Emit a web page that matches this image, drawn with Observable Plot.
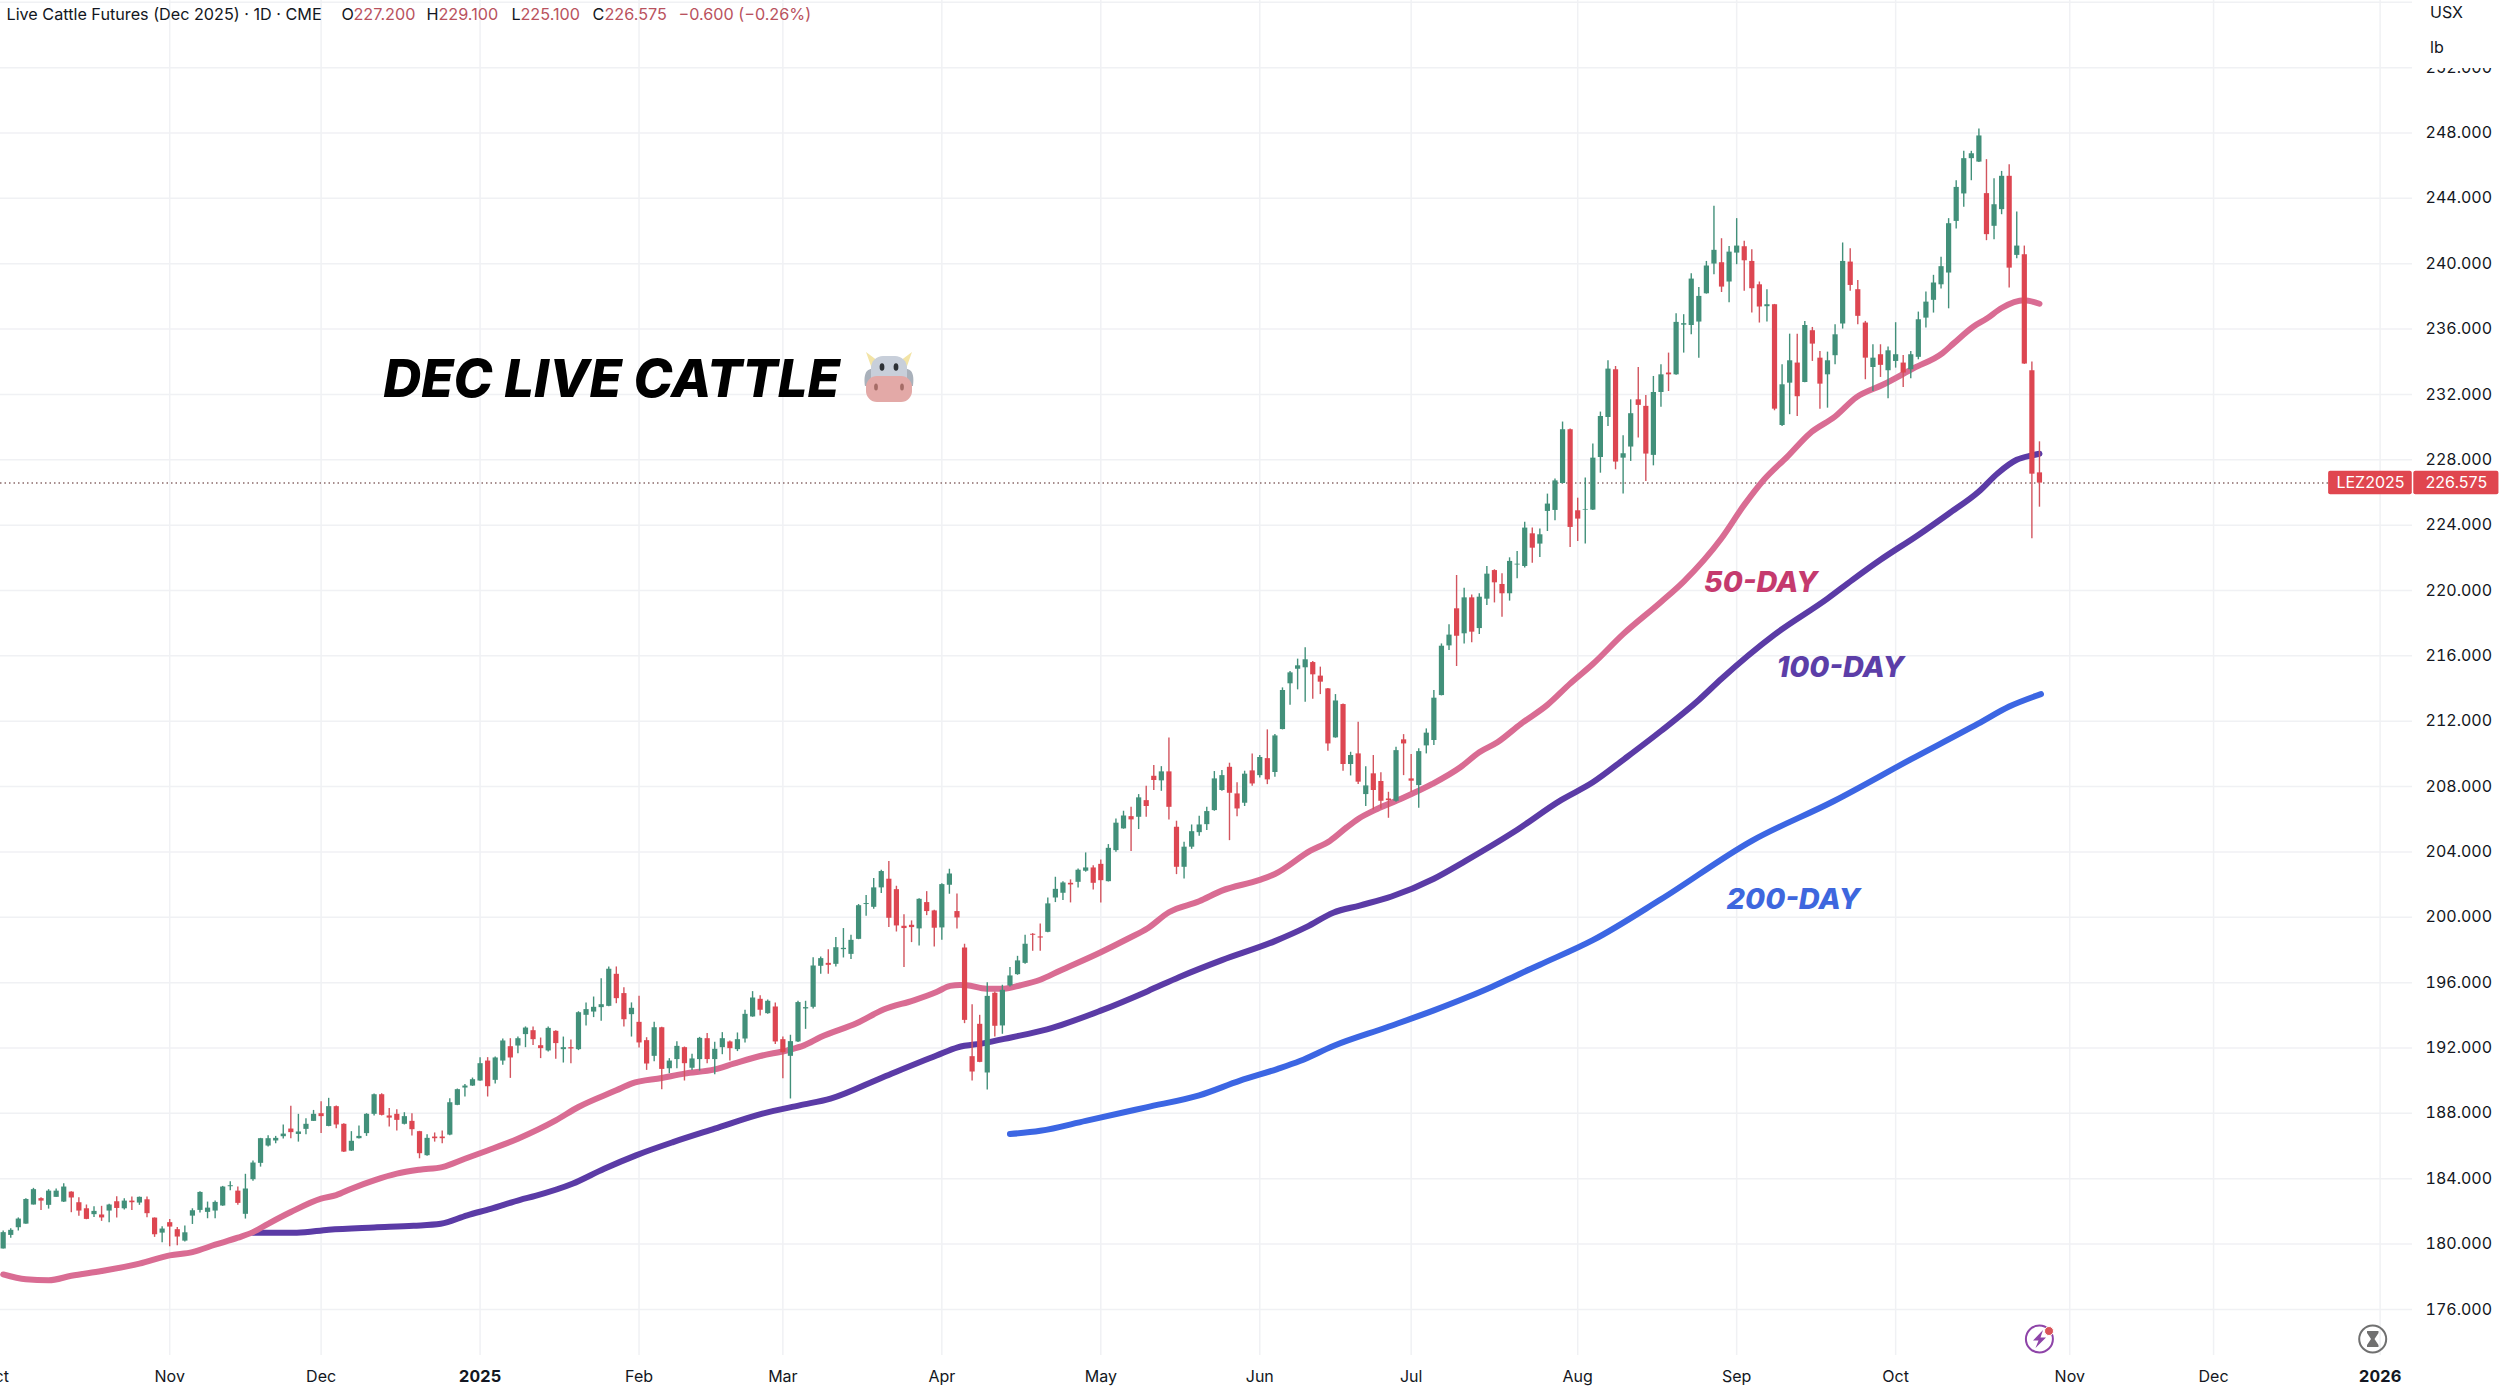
<!DOCTYPE html>
<html>
<head>
<meta charset="utf-8">
<style>
html,body{margin:0;padding:0;background:#fff;overflow:hidden}
svg{display:block}
</style>
<script src="https://cdn.jsdelivr.net/npm/d3@7"></script>
<script src="https://cdn.jsdelivr.net/npm/@observablehq/plot@0.6"></script>
</head>
<body>
<div id="chart"></div>
<script>
const opens=[179.7,180.53,181,181.22,182.39,182.78,182.37,182.86,182.57,183.18,182.53,182.16,181.8,181.78,182.02,182.59,182.16,182.63,182.51,182.71,181.59,180.67,181.31,180.88,180.18,181.71,182.06,181.94,182.02,182.33,183.51,183.24,181.82,183.94,184.94,186,186.31,186.57,187.04,186.71,187.02,187.51,187.98,187.2,188.41,187.33,185.69,186.45,186.76,187.94,189.14,187.84,187.94,187.33,187.51,186.88,185.41,186.55,186.55,186.67,188.49,189.55,189.67,189.98,191.2,190.02,191.2,192.08,192.12,
192.82,193.06,192.14,191.82,193.02,191.9,192.02,191.9,194,194.2,194.47,194.55,196.51,195.33,194.04,193.57,192.45,191.49,193.24,190.73,191.29,192.02,190.76,191.29,192.57,191.29,192.02,192.37,191.9,192.55,193.9,194.98,194.1,194.51,192.51,191.49,192.37,194.39,194.49,197,197.18,197.12,198.02,197.73,198.65,200.78,200.61,201.8,202.33,201.69,199.45,199.51,199.29,200.9,200.39,199.35,201.96,200.35,198.12,191.47,193.45,190.47,195.35,193.35,195.8,196.49,197.18,198.96,198.8,199.08,201.18,201.47,202.08,202.14,202.82,203.02,203.24,202.18,204.08,205.41,206.16,206.12,207.14,208.63,208.35,208.9,205.51,203.06,204.29,205.18,205.67,206.53,207.76,209.18,207.55,206.98,208.96,208.67,209.71,208.86,211.49,214.29,215.18,215.27,215.59,214.76,213.98,210.98,213.02,209.35,210,207.51,208.78,208.31,207.24,207.1,210.86,208.47,208.06,210.49,210.82,213.57,216.61,218.88,217.35,219.55,217.67,219.47,221.22,220.37,219.8,221.56,221.47,223.47,222.84,224.84,224.9,226.55,229.84,224.88,224.92,224.92,228.14,230.59,233.51,228.1,228.78,231.67,231.27,228.27,232.12,233.31,233.2,236.24,236.22,236.43,238.16,239.98,240.06,238.88,240.65,241.04,240.14,238.71,237.37,237.49,230.1,232.69,233.92,232.73,235.9,234.22,233.2,234.37,236.31,240.1,238.41,236.37,233.65,234.43,233.45,234.02,233.92,233.51,234.27,236.67,237.76,238.71,239.43,242.59,244.27,246.43,246.22,244.29,242.29,243.31,245.35,240.51,240.55,233.45,227.2];
const closes=[180.7,180.84,181.53,182.73,183.33,182.63,183.24,183.24,183.49,182.82,182.02,181.51,182,181.6,182.39,182.18,182.63,182.53,182.86,181.86,180.57,180.92,181.04,180.43,180.69,182.04,183.16,182.2,182.55,183.49,183.57,182.49,183.37,184.96,186.45,186.45,186.47,186.73,186.82,186.86,187.33,187.94,187.8,188.41,187.29,185.63,186.29,186.59,187.94,189.14,187.88,187.71,187.57,187.8,187,185.53,186.47,186.45,186.45,188.65,189.45,189.67,190.06,191.04,189.63,191.39,192.43,191.39,192.57,
193.22,192.51,191.96,193.2,192.27,192.02,191.94,194.16,194.35,194.49,194.65,196.82,195.02,193.73,194.43,192.31,191.02,193.24,190.69,191.2,192.1,191.04,191.33,192.59,191.29,191.92,192.57,191.96,192.51,194.06,195.06,194.31,194.86,192.37,191.71,192.39,194.78,194.47,197.02,197.47,197.06,198.14,198.1,198.59,200.71,200.84,201.8,202.8,199.94,199.47,199.31,199.37,201.1,200.35,199.33,202,202.65,199.96,193.69,190.53,191.12,195.16,193.33,195.53,196.41,197.33,198.35,198.9,198.73,200.82,201.71,202.1,201.98,202.88,203.02,202.08,202.24,204.22,205.76,206.2,205.96,207.31,206.78,208.37,208.9,206.73,203.06,204.29,205.24,205.65,206.47,208.47,208.67,207.59,206.63,208.76,208.16,209.78,208.41,211.1,213.88,214.96,215.39,215.76,214.84,214.39,210.61,213.24,209.35,209.9,208.27,208.04,207.76,207.1,207.14,210.2,210.61,208.33,210.14,211.27,213.41,216.59,217.27,217.2,219.55,217.45,219.59,221,220.47,219.8,221.78,221.61,223.82,222.59,223.41,225.29,226.71,229.84,223.86,224.37,224.96,228.1,230.65,233.55,227.86,228.37,230.82,231.33,228.35,232.12,233.2,233.2,236.41,236.33,239.06,238,239.86,240.82,238.57,240.71,241.08,240.18,238.47,237.35,237.49,231.1,232.59,234.06,231.86,236.22,235.08,232.63,234.06,235.65,240.14,238.67,236.78,234.22,234.22,233.78,234.67,234.43,233.31,234.43,236.57,237.65,238.82,239.82,242.45,244.67,246.43,246.73,247.82,241.78,243.61,245.35,239.73,241.08,233.86,227.12,226.575];
const highs=[180.8,180.94,181.6,182.78,183.41,182.84,183.33,183.37,183.69,183.2,182.84,182.39,182.29,182.31,182.43,182.9,182.78,182.88,182.88,182.88,181.6,181.06,181.51,181.02,181.1,182.16,183.2,182.57,182.63,183.53,183.82,183.49,184.27,185.08,186.47,186.63,186.59,187.29,188.43,187.94,187.67,188.18,188.71,188.92,188.45,187.37,186.88,187.22,187.98,189.18,189.2,188.29,188.22,188.04,187.98,186.9,186.69,186.8,186.92,188.9,189.49,189.76,190.16,191.41,191.41,191.45,192.55,192.57,192.67,
193.29,193.29,192.61,193.29,193.06,192.67,192.49,194.22,194.76,195.12,196.24,196.96,196.96,195.69,194.76,195.16,192.63,193.57,193.27,191.35,192.39,192.06,191.61,192.65,192.88,192.35,192.94,192.43,192.92,194.31,195.45,195.2,194.94,194.76,192.67,192.78,194.86,194.86,197.53,197.57,198.02,198.76,199.31,198.9,200.78,201.33,202.37,202.88,203.41,201.9,200.16,199.78,201.14,201.57,200.43,202.06,202.94,201.43,198.35,194.65,194,196,195.43,195.84,196.92,197.61,198.9,199,199.59,201.18,202.45,202.18,202.29,202.96,203.94,203.16,203.51,204.45,206.02,206.49,206.73,207.51,208.02,209.29,209.22,210.98,205.88,204.59,205.65,206.18,206.73,208.92,208.98,209.43,208.24,208.94,210,209.9,211.47,211.18,214.04,215.04,215.8,216.49,215.65,215.31,214,213.63,213.06,210.1,211.94,209.22,209.9,208.84,207.65,210.41,211.18,209.96,210.31,211.53,213.88,216.73,217.9,220.92,220.14,219.73,219.8,221.47,221.27,221.02,222,222.39,224.18,223.82,223.76,225.9,226.82,230.31,229.88,225.65,226.88,228.96,230.92,234.06,233.71,229.47,231.67,233.65,231.94,233.1,233.82,234.53,236.94,236.88,239.39,238.55,240.14,243.51,241.53,241.06,242.76,241.37,240.86,238.88,238.41,237.51,233.82,235.69,235.69,236.47,236.1,234.63,234.59,236.27,241.27,240.92,238.98,236.47,235.04,235.04,234.9,236.39,234.39,234.63,237.04,238.27,239.29,240.39,242.76,245.08,246.88,246.88,248.24,246.37,245.2,245.65,246.06,243.16,241.08,233.98,229.1];
const lows=[179.7,180.35,180.8,181.22,182.39,182.06,182.14,182.86,182.55,181.92,181.71,181.49,181.63,181.39,181.31,181.59,182.08,182.06,182.37,181.61,180.41,180.08,179.84,179.9,180.12,181.2,181.9,181.55,181.55,182.31,183.27,182.37,181.53,183.84,184.71,185.94,186.14,186.43,186.45,186.24,186.69,187.5,186.76,187.18,187.06,185.6,185.67,186.43,186.59,187.84,187.84,187.16,186.92,187.29,186.61,185.22,185.37,186.24,186.14,186.63,188.47,189,189.65,189.96,189,189.8,190.94,190.14,191.65,
192.02,192.16,191.35,191.76,191.31,191.08,191.04,191.84,193.35,193.86,193.63,194.53,194.71,193.29,192.67,192,190.63,191.16,189.45,190.43,190.73,189.98,190.63,190.59,191.04,190.37,191.59,191.2,191.78,192.31,193.88,193.96,194.06,192.22,190.12,188.88,192.33,193.14,194.39,196.51,196.51,196.96,197.51,197.41,198.63,200.06,200.49,201.45,199.37,199.1,196.92,198.45,198.24,200.1,198.18,198.59,201.41,199.29,193.49,189.98,191.1,189.43,192.67,192.84,195.73,196.45,197.12,197.92,197.92,199.06,200.9,201.02,200.88,201.8,202.76,201.67,200.88,202.16,203.98,205.39,204.02,205.37,206.12,207.76,207.71,205.96,202.61,202.35,204.16,204.96,205.31,206.49,207.71,204.69,206.16,206.78,208.02,208.53,208.12,208.57,211.47,212.98,213.92,213.16,213.35,213.63,210.16,210.96,208.94,208.65,208.12,206.78,206.57,206.63,206.06,207.04,208.67,207.65,206.67,210,210.51,213.55,216.33,215.35,216.73,216.8,217.31,219.08,219.24,218.37,219.35,220.72,221.37,221.67,222.02,223.61,224.27,226.53,222.63,223,222.84,224.9,227.18,230.04,227.39,225.9,227.9,229.33,226.67,227.63,231.22,232.18,233.18,234.53,235.65,234.22,238.14,239.33,238.24,237.61,239.94,238.31,236.98,236.37,236.43,231,230.04,230.76,230.65,232.71,234.02,231.1,231.16,233.82,236,238.31,236.27,232.9,232.18,233.04,231.73,233.61,232.43,232.96,234.12,236.06,236.98,238.45,237.24,242.12,243.45,245.08,246.2,241.41,241.47,243,238.51,240.31,233.84,223.16,225.1];

const ma50Index=[0,3,6,9,13,18,22,25,28,31,33,35,38,42,44,46,49,52,55,58,61,64,68,73,76,81,83,87,90,94,96.5,100,103.6,105.8,108,112.8,116.3,120.3,123.3,125.1,126.4,127.3,129.9,132.2,134.4,137,139.6,145,148.5,151.2,154,158,161,166,168,172.7,175.3,177.5,179,181.5,184.6,188.8,192.5,195,197.4,200.5,204,207,210,214,219,222,227,230,232.6,235.7,238.7,242,244.8,248.3,252.4,256.2,257.7,260.3,262,264,267,269];
const ma50Value=[178.14,177.84,177.78,178.06,178.35,178.8,179.31,179.51,179.96,180.39,180.73,181.24,181.96,182.78,183,183.39,183.9,184.31,184.55,184.71,185.22,185.73,186.45,187.57,188.39,189.41,189.82,190.16,190.43,190.69,191.04,191.51,191.86,192.16,192.67,193.53,194.35,194.92,195.43,195.8,195.86,195.84,195.63,195.63,195.84,196.18,196.73,197.86,198.67,199.33,200.31,200.98,201.63,202.29,202.65,204.08,204.69,205.51,206.02,206.63,207.24,208.16,209.18,210.1,210.71,211.84,213,214.3,215.5,217.33,219.3,220.55,223.2,225.24,226.78,228.2,229.63,230.65,231.82,232.59,233.61,234.53,235.14,236.16,236.63,237.29,237.76,237.55];
const ma100Index=[33,38.8,43,49,54.2,57.8,61.3,64.4,68.3,70.3,75.2,79.4,83.6,88.5,94,100.3,105.2,109.3,116.3,123.3,126.1,129.6,133,137.9,144.9,151.2,155.4,161,168,172.2,175.7,179.2,183.4,189,193.2,199.5,205.8,210,214.2,219,224,227,234,241,244.3,248,253,257,261,263.5,266,268,269];
const ma100Value=[180.69,180.69,180.88,181.02,181.12,181.24,181.76,182.16,182.71,182.95,183.69,184.61,185.43,186.24,187.06,187.98,188.49,188.9,190.23,191.54,192.04,192.3,192.63,193.14,194.27,195.48,196.35,197.38,198.54,199.41,200.28,200.72,201.27,202.36,203.45,205.2,207.17,208.26,209.7,211.4,213.3,214.6,217.3,219.5,220.65,221.88,223.4,224.7,226.06,227.18,228,228.27,228.37];
const ma200Index=[133,137,143,151,158,163.4,168.3,171.3,175.8,182.8,189,193.4,196.7,200.4,203,210,219,231,241.8,252,260.9,265,269.2];
const ma200Value=[186.73,186.93,187.54,188.37,189.1,190,190.71,191.2,192.14,193.27,194.3,195.1,195.75,196.55,197.1,198.6,201.1,204.68,207.1,209.66,211.85,212.9,213.66];

const priceTicks=[176,180,184,188,192,196,200,204,208,212,216,220,224,228,232,236,240,244,248,252,256];
const monthTicks=[-1,22,42,84,103,124,145,166,186,208,229,250,273,292];
const monthLabels=["Oct","Nov","Dec","Feb","Mar","Apr","May","Jun","Jul","Aug","Sep","Oct","Nov","Dec"];
const yearTicks=[63,314];
const yearLabels=["2025","2026"];
const smaLabels=[
  {text:"50-DAY",i:232.2,p:220.5,color:"#c53a6e"},
  {text:"100-DAY",i:242.7,p:215.25,color:"#5c3ea8"},
  {text:"200-DAY",i:236.5,p:201.1,color:"#3e67de"}
];
const headerParts=[
  {text:"Live Cattle Futures (Dec 2025) · 1D · CME",dx:6,c:"#131722"},
  {text:"O",dx:341,c:"#131722"},{text:"227.200",dx:353,c:"#b9525e"},
  {text:"H",dx:426,c:"#131722"},{text:"229.100",dx:438,c:"#b9525e"},
  {text:"L",dx:511,c:"#131722"},{text:"225.100",dx:520,c:"#b9525e"},
  {text:"C",dx:592,c:"#131722"},{text:"226.575",dx:604,c:"#b9525e"},
  {text:"−0.600 (−0.26%)",dx:678,c:"#b9525e"}
];
const lastClose=226.575;
const priceTags=[{text:"LEZ2025",a:307.2,b:318.25},{text:"226.575",a:318.45,b:329.7}];

const green="#42907a",red="#dd4651",grid="#f0f1f4",ink="#131722";
const font="Inter, 'Liberation Sans', sans-serif";
const rows=d3.range(opens.length).map(i=>({i,o:opens[i],c:closes[i],h:highs[i],l:lows[i]}));
const line=(xs,ys)=>xs.map((x,k)=>({x,y:ys[k]}));
const isUp=d=>d.c>=d.o;
const isDn=d=>d.c<d.o;

function decorations(index,scales,values,dim){
  const g=d3.create("svg:g");
  // price-scale unit box
  g.append("rect").attr("x",2418).attr("y",-8).attr("width",90).attr("height",76).attr("rx",7)
    .attr("fill","#fff").attr("stroke","none");
  [["USX",13],["lb",48]].forEach(([t,y])=>g.append("text").text(t).attr("x",2430).attr("y",y)
    .attr("dy","0.34em").attr("text-anchor","start").attr("font-size",16).attr("font-family",font).attr("fill",ink));
  // cow face
  const cow=g.append("g").attr("transform","translate(889,377)");
  cow.append("path").attr("d","M-23 -25 L-11 -16 L-17 -8 Z M23 -25 L11 -16 L17 -8 Z").attr("fill","#f3e4a6");
  cow.append("path").attr("d","M-17 -8 C-25 -8 -25 2 -24 9 L-15 9 Z M17 -8 C25 -8 25 2 24 9 L15 9 Z").attr("fill","#a9b1bb");
  cow.append("rect").attr("x",-18).attr("y",-21).attr("width",36).attr("height",34).attr("rx",12).attr("fill","#c8cfda");
  cow.append("rect").attr("x",-23).attr("y",-1).attr("width",46).attr("height",26).attr("rx",11).attr("fill","#e3a9a7");
  cow.selectAll("ellipse.e").data([-7,7]).join("ellipse").attr("cx",d=>d).attr("cy",-10).attr("rx",2.4).attr("ry",3.8).attr("fill","#2d3136");
  cow.selectAll("ellipse.n").data([-13,13]).join("ellipse").attr("cx",d=>d).attr("cy",10).attr("rx",1.9).attr("ry",3.6).attr("fill","#a56c66");
  // status icons
  g.append("circle").attr("cx",2039.4).attr("cy",1339).attr("r",13.5).attr("fill","none").attr("stroke","#8e44a8").attr("stroke-width",2);
  g.append("path").attr("d","M2043 1330 L2033 1340.5 L2038.5 1340.5 L2035.5 1348 L2046 1337.5 L2040.5 1337.5 Z").attr("fill","#8e44a8");
  g.append("circle").attr("cx",2049).attr("cy",1331).attr("r",4.5).attr("fill","#d9545a").attr("stroke","#fff").attr("stroke-width",1);
  g.append("circle").attr("cx",2372.7).attr("cy",1339).attr("r",13.5).attr("fill","none").attr("stroke","#707070").attr("stroke-width",2);
  g.append("path").attr("d","M2367 1331 H2378.5 V1333 L2374.5 1339 L2378.5 1345 V1347 H2367 V1345 L2371 1339 L2367 1333 Z").attr("fill","#707070");
  return g.node();
}

const chart=Plot.plot({
  width:2500,height:1389,
  marginTop:0,marginBottom:34,marginLeft:0,marginRight:88,
  style:{background:"#fff",fontFamily:font},
  x:{type:"linear",domain:[-0.353,318.28],label:null},
  y:{type:"linear",domain:[173.18,256.11],label:null},
  marks:[
    Plot.gridY(priceTicks,{stroke:grid,strokeOpacity:1,strokeWidth:1.5}),
    Plot.gridX([...monthTicks,...yearTicks].filter(d=>d>=0),{stroke:grid,strokeOpacity:1,strokeWidth:1.5}),
    Plot.axisY(priceTicks,{anchor:"right",tickSize:0,tickPadding:13,tickFormat:d3.format(".3f"),fontSize:16,fill:ink,label:null}),
    Plot.axisX(monthTicks,{anchor:"bottom",tickSize:0,tickPadding:15,tickFormat:d=>monthLabels[monthTicks.indexOf(d)],fontSize:16,fill:ink,label:null}),
    Plot.axisX(yearTicks,{anchor:"bottom",tickSize:0,tickPadding:15,tickFormat:d=>yearLabels[yearTicks.indexOf(d)],fontSize:16.5,fontWeight:700,fill:ink,label:null}),
    Plot.ruleY([lastClose],{x1:()=>-0.353,x2:()=>307.2,stroke:"#8a6a6a",strokeWidth:1.5,strokeDasharray:"1.5 3"}),
    Plot.line(line(ma200Index,ma200Value),{x:"x",y:"y",stroke:"#3c66e3",strokeWidth:6,curve:"monotone-x"}),
    Plot.line(line(ma100Index,ma100Value),{x:"x",y:"y",stroke:"#5b3ba6",strokeWidth:6,curve:"monotone-x"}),
    Plot.line(line(ma50Index,ma50Value),{x:"x",y:"y",stroke:"#d96c93",strokeWidth:6,curve:"monotone-x"}),
    Plot.ruleX(rows,{x:"i",y1:"l",y2:"h",stroke:green,strokeWidth:1.4,filter:isUp}),
    Plot.ruleX(rows,{x:"i",y1:"l",y2:"h",stroke:"#d2545e",strokeWidth:1.4,filter:isDn}),
    Plot.ruleX(rows,{x:"i",y1:"o",y2:"c",stroke:green,strokeWidth:5.2,filter:isUp}),
    Plot.ruleX(rows,{x:"i",y1:"o",y2:"c",stroke:red,strokeWidth:5.2,filter:isDn}),
    Plot.rect(priceTags,{x1:"a",x2:"b",y1:()=>lastClose-0.72,y2:()=>lastClose+0.72,fill:"#e0464f",rx:2}),
    Plot.text(priceTags,{x:d=>(d.a+d.b)/2,y:()=>lastClose,text:"text",fill:"#fff",fontSize:16}),
    Plot.text(["DEC LIVE CATTLE"],{x:()=>50.2,y:()=>232.9,text:d=>d,textAnchor:"start",fontSize:52.6,fontWeight:800,fontStyle:"italic",fill:"#000"}),
    Plot.text(smaLabels,{x:"i",y:"p",text:"text",fill:"color",fontSize:29,fontWeight:800,fontStyle:"italic"}),
    ...headerParts.map(p=>Plot.text([p.text],{frameAnchor:"top-left",dx:p.dx,dy:14,text:d=>d,textAnchor:"start",lineAnchor:"middle",fontSize:16.2,fill:p.c})),
    decorations
  ]
});
document.getElementById("chart").append(chart);
</script>
</body>
</html>
